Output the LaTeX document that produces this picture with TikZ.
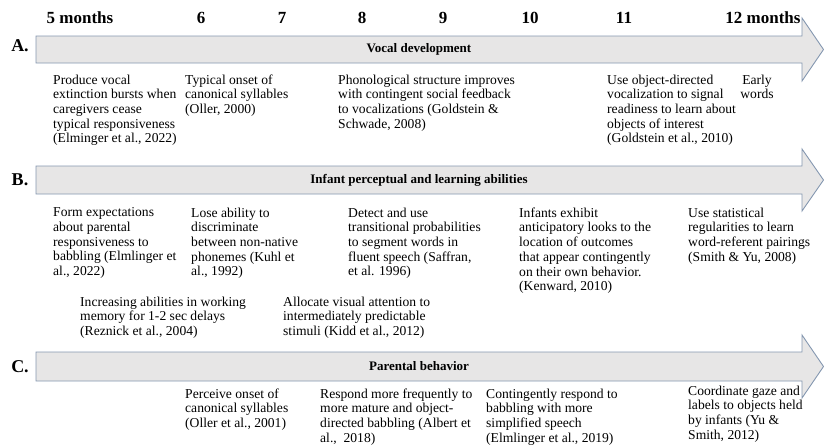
\documentclass[tikz,border=0pt]{standalone}
\usepackage{fontspec}
\setmainfont{Liberation Serif}

\definecolor{arrowfill}{RGB}{231,230,230}
\definecolor{arrowline}{RGB}{132,151,176}

\tikzset{
  bandarrow/.style={fill=arrowfill, draw=arrowline, line width=0.9pt},
  month/.style={font=\fontsize{17}{20}\selectfont\bfseries, inner sep=0pt},
  rowtag/.style={font=\fontsize{18}{20}\selectfont\bfseries, inner sep=0pt},
  bandtitle/.style={font=\fontsize{13}{15}\selectfont\bfseries, inner sep=0pt},
  finding/.style={anchor=north west, align=left, inner sep=0pt,
    font=\fontsize{13.6}{14.7}\selectfont},
}

\begin{document}
\begin{tikzpicture}[x=1pt, y=-1pt]
  \useasboundingbox (0,0) rectangle (824,445);

  % months
  \node[month] (m5)  at (80,18)  {5 months};
  \node[month] (m6)  at (201,18) {6};
  \node[month] (m7)  at (282,18) {7};
  \node[month] (m8)  at (362,18) {8};
  \node[month] (m9)  at (443,18) {9};
  \node[month] (m10) at (530,18) {10};
  \node[month] (m11) at (624,18) {11};
  \node[month] (m12) at (763,18) {12 months};

  % the three bands
  \draw[bandarrow] (36,36) -- (802,36) -- (802,18) -- (823.5,49.5)
    -- (802,81) -- (802,63) -- (36,63) -- cycle;
  \draw[bandarrow] (36,166) -- (802,166) -- (802,149) -- (823.5,180)
    -- (802,211) -- (802,194) -- (36,194) -- cycle;
  \draw[bandarrow] (36,352) -- (802,352) -- (802,335) -- (823.5,366.5)
    -- (802,398) -- (802,381) -- (36,381) -- cycle;

  \node[rowtag] (tagA) at (20,46)  {A.};
  \node[rowtag] (tagB) at (20,180) {B.};
  \node[rowtag] (tagC) at (20,367) {C.};

  \node[bandtitle] (vocal)    at (419,49.5) {Vocal development};
  \node[bandtitle] (percept)  at (419,180)  {Infant perceptual and learning abilities};
  \node[bandtitle] (parental) at (419,366.5) {Parental behavior};

  % A. vocal development
  \node[finding] (voc1) at (53,74.5)  {Produce vocal\\extinction bursts when\\caregivers cease\\typical responsiveness\\(Elminger et al., 2022)};
  \node[finding] (voc2) at (185,74.5) {Typical onset of\\canonical syllables\\(Oller, 2000)};
  \node[finding] (voc3) at (338,74.5) {Phonological structure improves\\with contingent social feedback\\to vocalizations (Goldstein \&\\Schwade, 2008)};
  \node[finding] (voc4) at (607,74.5) {Use object-directed\\vocalization to signal\\readiness to learn about\\objects of interest\\(Goldstein et al., 2010)};
  \node[finding, anchor=north, align=center] (voc5) at (757,74.5) {Early\\words};

  % B. perceptual and learning abilities
  \node[finding] (per1) at (53,207.5)  {Form expectations\\about parental\\responsiveness to\\babbling (Elmlinger et\\al., 2022)};
  \node[finding] (per2) at (191,207.5) {Lose ability to\\discriminate\\between non-native\\phonemes (Kuhl et\\al., 1992)};
  \node[finding] (per3) at (348,207.5) {Detect and use\\transitional probabilities\\to segment words in\\fluent speech (Saffran,\\et al. 1996)};
  \node[finding] (per4) at (519,207.5) {Infants exhibit\\anticipatory looks to the\\location of outcomes\\that appear contingently\\on their own behavior.\\(Kenward, 2010)};
  \node[finding] (per5) at (688,207.5) {Use statistical\\regularities to learn\\word-referent pairings\\(Smith \& Yu, 2008)};
  \node[finding] (per6) at (80,296.5)  {Increasing abilities in working\\memory for 1-2 sec delays\\(Reznick et al., 2004)};
  \node[finding] (per7) at (283,296.5) {Allocate visual attention to\\intermediately predictable\\stimuli (Kidd et al., 2012)};

  % C. parental behavior
  \node[finding] (par1) at (185,388.5) {Perceive onset of\\canonical syllables\\(Oller et al., 2001)};
  \node[finding] (par2) at (320,388.5) {Respond more frequently to\\more mature and object-\\directed babbling (Albert et\\al.,\ \ 2018)};
  \node[finding] (par3) at (486,388.5) {Contingently respond to\\babbling with more\\simplified speech\\(Elmlinger et al., 2019)};
  \node[finding] (par4) at (688,385.5) {Coordinate gaze and\\labels to objects held\\by infants (Yu \&\\Smith, 2012)};
\end{tikzpicture}
\end{document}
